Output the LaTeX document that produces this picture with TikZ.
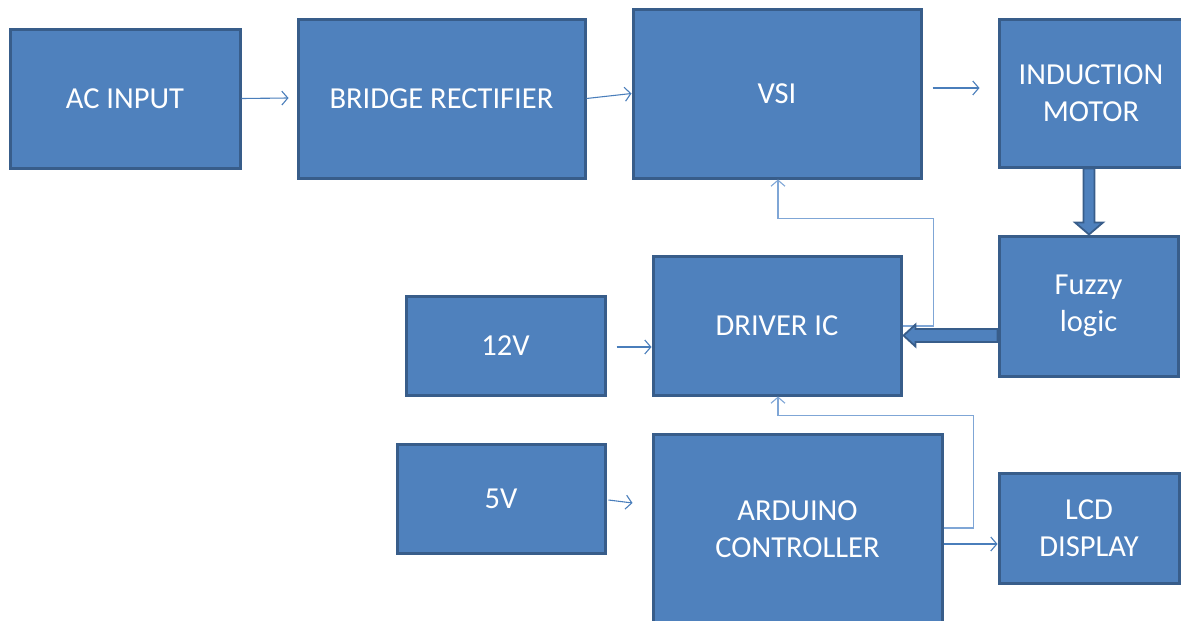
\documentclass[tikz,border=0pt]{standalone}
\usepackage{fontspec}
\setmainfont{Carlito}
\usetikzlibrary{arrows.meta,calc}
\definecolor{boxfill}{HTML}{4F81BD}
\definecolor{boxline}{HTML}{385D8A}
\definecolor{arrowcol}{HTML}{4A7EBB}
\definecolor{feedcol}{HTML}{7FA6D6}
\begin{document}
\begin{tikzpicture}[x=1pt,y=-1pt,
  blk/.style={draw=boxline, fill=boxfill, line width=3pt, text=white,
    font=\fontsize{30.5}{37}\selectfont, align=center, inner sep=0pt},
  conn/.style={draw=arrowcol, line width=1.1pt, -{Straight Barb[length=6pt,width=14pt]}},
  feed/.style={draw=feedcol, line width=1.1pt, -{Straight Barb[length=6pt,width=14pt]}},
  bigarrow/.style={fill=boxfill, draw=boxline, line width=1.8pt, line join=miter}
]
\useasboundingbox (0,0) rectangle (1181,621);
\clip (0,0) rectangle (1181,621);

% boxes
\node[blk, minimum width=230, minimum height=139] (ac)  at (125,98.5)    {AC INPUT};
\node[blk, minimum width=287, minimum height=159] (br)  at (441.5,98.5)  {BRIDGE RECTIFIER};
\node[blk, minimum width=288, minimum height=169] (vsi) at (777,93.5)    {VSI};
\node[blk, minimum width=184, minimum height=148] (im)  at (1091,93)     {INDUCTION\\MOTOR};
\node[blk, minimum width=179, minimum height=140] (fz)  at (1088.5,306)  {Fuzzy\\logic};
\node[blk, minimum width=248, minimum height=139] (drv) at (777,325.5)   {DRIVER IC};
\node[blk, minimum width=199, minimum height=99]  (v12) at (505.5,345.5) {12V};
\node[blk, minimum width=208, minimum height=109] (v5)  at (501,498.5)   {5V};
\node[blk, minimum width=289, minimum height=190] (ard) at (797.5,529)   {ARDUINO\\CONTROLLER};
\node[blk, minimum width=180, minimum height=110] (lcd) at (1089,528)    {LCD\\DISPLAY};

% thin connectors
\draw[conn] (ac.east) -- ($(br.west)+(-8,-0.5)$);
\draw[conn] (br.east) -- (vsi.west);
\draw[conn] ($(vsi.east)+(10,-5.5)$) -- ($(im.west)+(-18,-5)$);
\draw[conn] ($(v12.east)+(10,1.5)$) -- ($(drv.west)+(0,21.5)$);
\draw[conn] ($(v5.east)+(2,1.5)$) -- ($(ard.west)+(-19,-26)$);
\draw[conn] ($(ard.east)+(0,15)$) -- ($(lcd.west)+(0,16)$);

% feedback connectors
\draw[feed] ($(drv.east)+(0,0.5)$) -- ++(31,0) |- ($(vsi.south)+(1,39)$) -- ($(vsi.south)+(1,0)$);
\draw[feed] ($(ard.east)+(0,-1)$) -- ++(30,0) |- ($(drv.south)+(1,19)$) -- ($(drv.south)+(1,0)$);

% thick block arrows
\coordinate (imS) at ($(im.south)+(-2,0)$);
\coordinate (fzN) at ($(fz.north)+(0.5,0)$);
\draw[bigarrow] ($(imS)+(-5.5,0)$) -- ($(fzN)+(-5.5,-12)$) -- ($(fzN)+(-14,-12)$) -- (fzN)
  -- ($(fzN)+(14,-12)$) -- ($(fzN)+(5.5,-12)$) -- ($(imS)+(5.5,0)$) -- cycle;

\coordinate (fzW) at ($(fz.west)+(0,29.5)$);
\coordinate (drvE) at ($(drv.east)+(1,10)$);
\draw[bigarrow] ($(fzW)+(0,-6.5)$) -- ($(drvE)+(12,-6.5)$) -- ($(drvE)+(12,-11)$) -- (drvE)
  -- ($(drvE)+(12,11)$) -- ($(drvE)+(12,6.5)$) -- ($(fzW)+(0,6.5)$) -- cycle;
\end{tikzpicture}
\end{document}
